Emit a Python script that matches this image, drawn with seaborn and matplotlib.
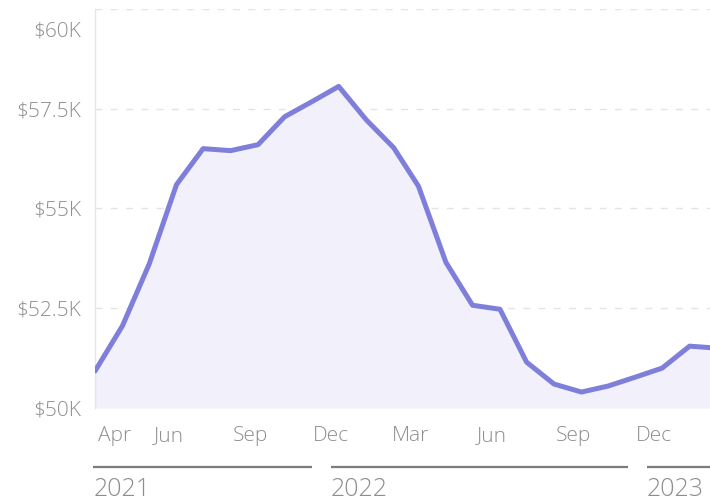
import pandas as pd
import matplotlib.pyplot as plt
import matplotlib.transforms as mtransforms
import seaborn as sns

# Monthly values, one reading per month (Mar 2021 - Feb 2023)
dates = pd.date_range("2021-03-10", periods=24, freq=pd.DateOffset(months=1))
values = [50925, 52060, 53600, 55600, 56500, 56450, 56600, 57300,
          57680, 58060, 57225, 56525, 55560, 53650, 52575, 52475,
          51150, 50600, 50400, 50550, 50775, 51000, 51550, 51500]

# Axis ticks
month_ticks = pd.to_datetime(["2021-04-01", "2021-06-01", "2021-09-01", "2021-12-01",
                              "2022-03-01", "2022-06-01", "2022-09-01", "2022-12-01"])
month_labels = ["Apr", "Jun", "Sep", "Dec", "Mar", "Jun", "Sep", "Dec"]
y_ticks = [50000, 52500, 55000, 57500, 60000]
y_labels = ["$50K", "$52.5K", "$55K", "$57.5K", "$60K"]

# Year groups under the month labels
years = ["2021", "2022", "2023"]
year_starts = pd.to_datetime(["2021-03-08", "2021-12-01", "2022-11-23"])
year_ends = pd.to_datetime(["2021-11-10", "2022-11-02", "2023-02-02"])

df = pd.DataFrame({"date": dates, "value": values})

sns.set_theme(style="white")
plt.rcParams["font.family"] = ["Open Sans", "DejaVu Sans"]

line_color = "#7f7fdb"
text_color = "#8e8e8e"

fig = plt.figure(figsize=(7.1, 5.04), dpi=100)
ax = fig.add_axes([95 / 710, 1 - 408 / 504, 615 / 710, 399 / 504])

ax.fill_between(df["date"], df["value"], 50000, color="#f1f0fb", lw=0, zorder=1)
sns.lineplot(data=df, x="date", y="value", ax=ax, color=line_color, lw=3.6,
             solid_joinstyle="round", solid_capstyle="round", zorder=3)

ax.set_xlim(pd.Timestamp("2021-03-10"), pd.Timestamp("2023-02-02"))
ax.set_ylim(50000, 60000)

# grid
for yv in y_ticks[1:]:
    ax.axhline(yv, color="#e4e4e4", lw=1, ls=(0, (5, 6)), zorder=0)

for side in ["top", "right", "bottom"]:
    ax.spines[side].set_visible(False)
ax.spines["left"].set_color("#e6e6e6")
ax.spines["left"].set_linewidth(1)

ax.set_yticks(y_ticks)
ax.set_yticklabels(y_labels)
ax.set_xticks(month_ticks)
ax.set_xticklabels(month_labels)
ax.tick_params(axis="y", length=0, pad=10, labelsize=15, labelcolor=text_color)
ax.tick_params(axis="x", length=0, pad=13, labelsize=15, labelcolor=text_color)
for lab in ax.get_yticklabels() + ax.get_xticklabels():
    lab.set_fontweight("light")
# top label sits inside the figure
top_lab = ax.get_yticklabels()[-1]
top_lab.set_verticalalignment("top")
top_lab.set_transform(top_lab.get_transform() + mtransforms.ScaledTranslation(0, -9 / 72, fig.dpi_scale_trans))
ax.set_xlabel("")
ax.set_ylabel("")

# year bands
trans = mtransforms.blended_transform_factory(ax.transData, fig.transFigure)
for name, start, end in zip(years, year_starts, year_ends):
    ax.plot([start, end], [1 - 467 / 504] * 2, color="#7c7c7c", lw=1.6,
            transform=trans, clip_on=False, solid_capstyle="butt")
    ax.text(start, 1 - 490 / 504, name, transform=trans, ha="left", va="center",
            fontsize=18, fontweight="light", color=text_color)

fig.savefig("out.png", dpi=100)
